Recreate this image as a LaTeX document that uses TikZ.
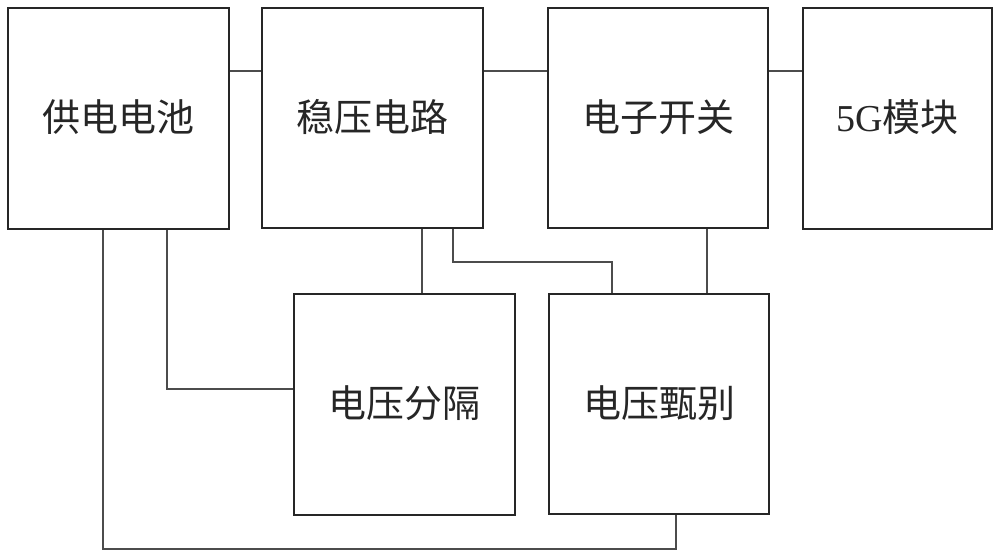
\documentclass[tikz,border=0pt]{standalone}
\usepackage{fontspec}
\newfontfamily\cjk{Noto Sans CJK SC}
\newfontfamily\latinserif{Liberation Serif}
\newcommand{\upby}[1]{\raisebox{5pt}{#1}}
\begin{document}
\begin{tikzpicture}[x=1pt,y=-1pt,
  box/.style={draw=black!85, line width=2pt, fill=white, inner sep=0pt,
    font=\cjk\fontsize{38}{42}\selectfont, text=black!85},
  wire/.style={draw=black!70, line width=1.8pt}]
\useasboundingbox[fill=white] (0,0) rectangle (1000,557);
\node[box, minimum width=221pt, minimum height=221pt] (A) at (118.5,118.5) {\upby{供电电池}};
\node[box, minimum width=221pt, minimum height=220pt] (B) at (372.5,118) {\upby{稳压电路}};
\node[box, minimum width=220pt, minimum height=220pt] (C) at (658,118) {\upby{电子开关}};
\node[box, minimum width=189pt, minimum height=221pt] (D) at (897.5,118.5) {\upby{{\latinserif 5G}模块}};
\node[box, minimum width=221pt, minimum height=221pt] (E) at (404.5,404.5) {\upby{电压分隔}};
\node[box, minimum width=220pt, minimum height=220pt] (F) at (659,404) {\upby{电压甄别}};
\coordinate (y71) at (0,71);
\coordinate (p1) at (103,549);
\coordinate (p2) at (676,549);
\coordinate (q1) at (167,389);
\coordinate (s1) at (422,260);
\coordinate (r1) at (453,262);
\coordinate (r2) at (612,262);
\coordinate (t1) at (707,260);
\draw[wire] (A.east |- y71) -- (B.west |- y71);
\draw[wire] (B.east |- y71) -- (C.west |- y71);
\draw[wire] (C.east |- y71) -- (D.west |- y71);
\draw[wire] (A.south -| p1) -- (p1) -- (p2) -- (F.south -| p2);
\draw[wire] (A.south -| q1) -- (q1) -- (E.west |- q1);
\draw[wire] (B.south -| s1) -- (E.north -| s1);
\draw[wire] (B.south -| r1) -- (r1) -- (r2) -- (F.north -| r2);
\draw[wire] (C.south -| t1) -- (F.north -| t1);
\end{tikzpicture}
\end{document}
